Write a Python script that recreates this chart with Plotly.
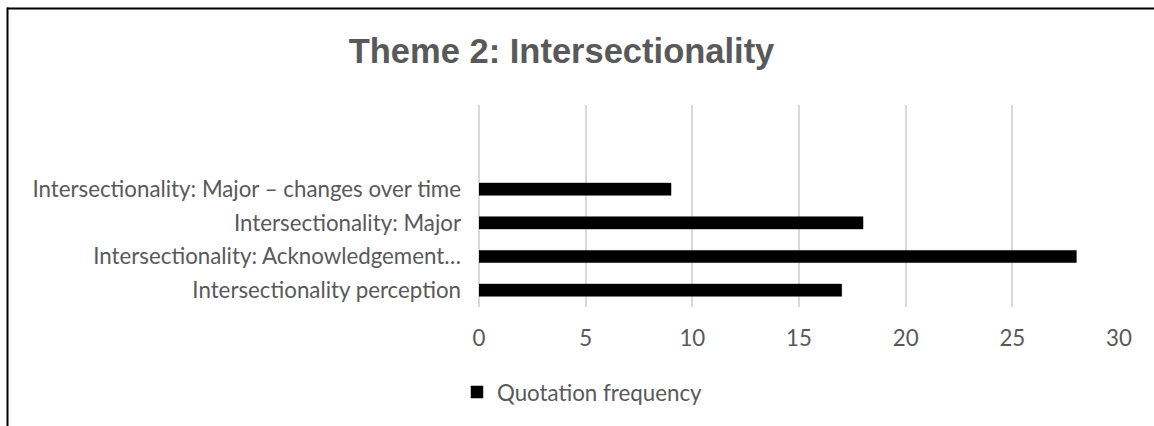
import plotly.graph_objects as go

# Data (bottom-to-top order on the category axis)
categories = [
    "Intersectionality perception",
    "Intersectionality: Acknowledgement…",
    "Intersectionality: Major",
    "Intersectionality: Major – changes over time",
]
quotation_frequency = [17, 28, 18, 9]
x_ticks = [0, 5, 10, 15, 20, 25, 30]
series_name = "Quotation frequency"
title_text = "Theme 2: Intersectionality"

W, H = 1154, 426
L, R, T, B = 479, 35, 105, 119
PW, PH = W - L - R, H - T - B

def px_x(x):
    return (x - L) / PW

def px_y(y):
    return (H - B - y) / PH

label_font = dict(family="Lato", size=22.3, color="#595959")

fig = go.Figure()
fig.add_trace(go.Bar(
    x=quotation_frequency,
    y=categories,
    orientation="h",
    name=series_name,
    marker=dict(color="#000000", line=dict(color="#000000", width=0.5)),
    showlegend=True,
))

fig.update_layout(
    width=W, height=H,
    margin=dict(l=L, r=R, t=T, b=B, autoexpand=False),
    paper_bgcolor="white",
    plot_bgcolor="white",
    bargap=0.64,
    title=dict(
        text=title_text,
        x=561.5 / W, xanchor="center",
        y=1 - 51 / H, yanchor="middle",
        font=dict(family="Liberation Sans", size=34.5, color="#595959", weight="bold"),
    ),
    xaxis=dict(
        range=[0, 30],
        tickvals=x_ticks,
        showgrid=True, gridcolor="#d9d9d9", gridwidth=1.5,
        zeroline=True, zerolinecolor="#d9d9d9", zerolinewidth=1.5,
        showline=False, ticks="",
        tickfont=label_font,
        ticklabelstandoff=16,
    ),
    yaxis=dict(
        type="category",
        categoryorder="array", categoryarray=categories,
        range=[-0.5, 5.5],
        showgrid=False, zeroline=False, showline=False, ticks="",
        tickfont=label_font,
        ticklabelstandoff=17,
    ),
    legend=dict(
        orientation="h",
        x=px_x(457), xanchor="left",
        y=px_y(392), yanchor="middle",
        font=label_font,
        bgcolor="rgba(0,0,0,0)",
    ),
    shapes=[
        dict(type="line", xref="paper", yref="paper",
             x0=px_x(7), x1=px_x(W + 2), y0=px_y(8.5), y1=px_y(8.5),
             line=dict(color="#000000", width=2)),
        dict(type="line", xref="paper", yref="paper",
             x0=px_x(7.5), x1=px_x(7.5), y0=px_y(7.5), y1=px_y(H + 2),
             line=dict(color="#000000", width=2)),
    ],
)

fig.write_html("out.html")
